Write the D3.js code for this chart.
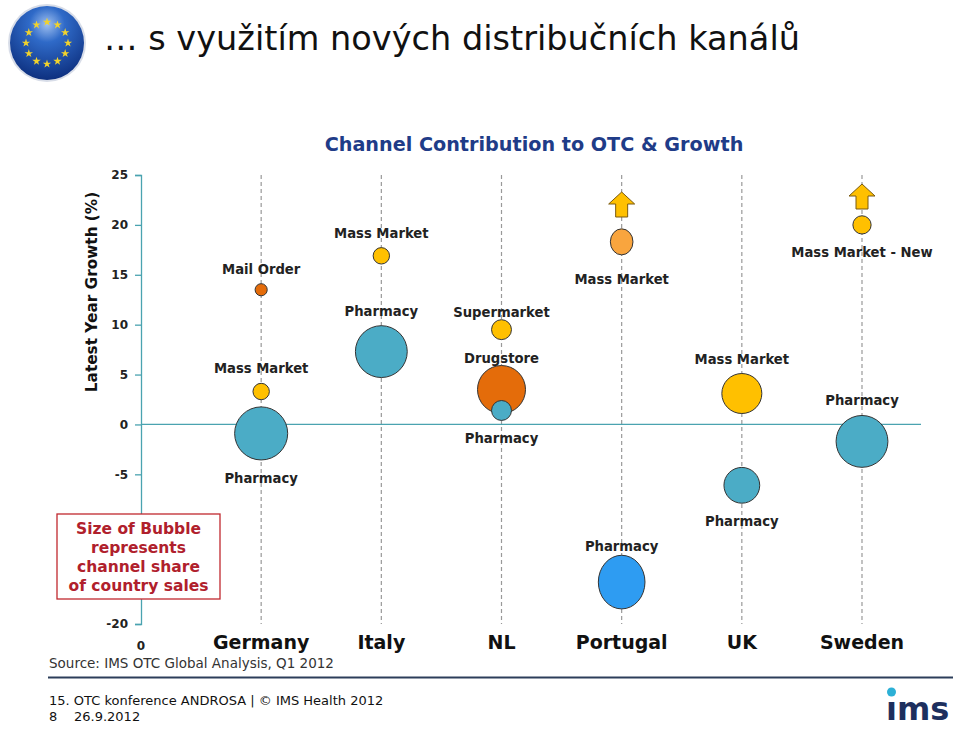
<!DOCTYPE html>
<html><head><meta charset="utf-8">
<script src="https://cdn.jsdelivr.net/npm/d3@7"></script>
<style>
html,body{margin:0;padding:0;background:#fff;}
svg{display:block;}
</style></head>
<body>
<svg id="c" width="960" height="729"></svg>
<script>
// ---- data ----
const countries = ["Germany", "Italy", "NL", "Portugal", "UK", "Sweden"];
const yTicks = [25, 20, 15, 10, 5, 0, -5, -20];
const bubbleCountry = ["Germany","Germany","Germany","Italy","Italy","NL","NL","NL","Portugal","Portugal","UK","UK","Sweden","Sweden"];
const bubbleChannel = ["Mail Order","Mass Market","Pharmacy","Mass Market","Pharmacy","Supermarket","Drugstore","Pharmacy","Mass Market","Pharmacy","Mass Market","Pharmacy","Mass Market - New","Pharmacy"];
const bubbleGrowth = [13.5, 3.3, -0.9, 16.9, 7.3, 9.5, 3.5, 1.4, 18.3, -15.8, 3.1, -6.1, 20.0, -1.7];
const bubbleShare  = [2.3, 4.2, 44, 4.2, 42, 6.2, 36, 6.2, 8.0, 34, 25, 20, 5.2, 42];
const bubbleColor  = ["#e46c0a","#ffc000","#4bacc6","#ffc000","#4bacc6","#ffc000","#e46c0a","#4bacc6","#f9a53e","#2e9cf2","#ffc000","#4bacc6","#ffc000","#4bacc6"];
const labelSide    = ["above","above","below","above","above","above","above","below","below","above","above","below","below","above"];
const arrowCountries = ["Portugal", "Sweden"];
const noteLines = ["Size of Bubble","represents","channel share","of country sales"];

const svg = d3.select("#c");
const font = "'DejaVu Sans', Verdana, sans-serif";

// ---- header ----
const defs = svg.append("defs");
const rg = defs.append("radialGradient").attr("id","eu").attr("cx","50%").attr("cy","25%").attr("r","80%");
rg.append("stop").attr("offset","0%").attr("stop-color","#9fc0f0");
rg.append("stop").attr("offset","30%").attr("stop-color","#2f6ac8");
rg.append("stop").attr("offset","100%").attr("stop-color","#0a2a78");
svg.append("circle").attr("cx",47).attr("cy",43).attr("r",39).attr("fill","#d8dde8");
svg.append("circle").attr("cx",47).attr("cy",43).attr("r",37).attr("fill","url(#eu)");
const star = d3.symbol().type(d3.symbolStar).size(22);
d3.range(12).forEach(i => {
  const a = i * Math.PI * 2 / 12;
  svg.append("path").attr("d", star())
    .attr("transform", `translate(${47 + 21*Math.sin(a)},${43 - 21*Math.cos(a)})`)
    .attr("fill", "#f2d32c");
});
svg.append("text").attr("x",104).attr("y",50).attr("font-family",font)
  .attr("font-size",33.5).attr("fill","#111").attr("textLength",696).attr("lengthAdjust","spacingAndGlyphs")
  .text("… s využitím nových distribučních kanálů");

// ---- chart ----
const x = d3.scalePoint().domain(["0"].concat(countries)).range([141, 862]);
const y = d3.scaleLinear().domain([-20, 25]).range([624, 175]);
const r = d3.scaleSqrt().domain([0, 100]).range([0, 40]);
const axisColor = "#4aa3b0";
const stretch = c => c === "Portugal" ? 1.15 : 1;   // Portugal bubbles are drawn slightly taller

svg.append("text").attr("x",534).attr("y",151).attr("text-anchor","middle")
  .attr("font-family",font).attr("font-weight","bold").attr("font-size",19.2)
  .attr("fill","#1f3c88").text("Channel Contribution to OTC & Growth");

// dashed country lines
svg.append("g").selectAll("line").data(countries).join("line")
  .attr("x1", d => x(d)).attr("x2", d => x(d))
  .attr("y1", y(25)).attr("y2", y(-20))
  .attr("stroke", "#999").attr("stroke-width", 1.2).attr("stroke-dasharray", "4,3");

// y axis
const yAxis = d3.axisLeft(y).tickValues(yTicks).tickSize(6).tickPadding(7).tickFormat(d => String(d));
const gy = svg.append("g").attr("transform", `translate(${x("0")},0)`).call(yAxis);
gy.select(".domain").attr("stroke", axisColor).attr("stroke-width",1.3);
gy.selectAll(".tick line").attr("stroke", axisColor).attr("stroke-width",1.3);
gy.selectAll(".tick text").attr("font-family",font).attr("font-weight","bold").attr("font-size",12).attr("fill","#222");

// zero line
svg.append("line").attr("x1", x("0")).attr("x2", 921).attr("y1", y(0)).attr("y2", y(0))
  .attr("stroke", axisColor).attr("stroke-width", 1.3);

// y title
svg.append("text").attr("transform", `translate(97,292) rotate(-90)`)
  .attr("text-anchor","middle").attr("font-family",font).attr("font-weight","bold")
  .attr("font-size",15.3).attr("fill","#111").text("Latest Year Growth (%)");

// x labels
svg.append("text").attr("x", x("0")).attr("y", 650).attr("text-anchor","middle")
  .attr("font-family",font).attr("font-weight","bold").attr("font-size",12).attr("fill","#222").text("0");
svg.append("g").selectAll("text").data(countries).join("text")
  .attr("x", d => x(d)).attr("y", 649).attr("text-anchor","middle")
  .attr("font-family",font).attr("font-weight","bold").attr("font-size",19).attr("fill","#111")
  .text(d => d);

// arrows
const arrowPath = (cx, top) => {
  const hw = 13, sw = 6, hh = 12, h = 25;
  return `M${cx},${top} L${cx+hw},${top+hh} L${cx+sw},${top+hh} L${cx+sw},${top+h} L${cx-sw},${top+h} L${cx-sw},${top+hh} L${cx-hw},${top+hh} Z`;
};
const arrowTop = {Portugal: 192, Sweden: 184};
svg.append("g").selectAll("path").data(arrowCountries).join("path")
  .attr("d", d => arrowPath(x(d), arrowTop[d]))
  .attr("fill", "#ffc000").attr("stroke", "#7a5a10").attr("stroke-width", 1);

// bubbles
const bubbles = bubbleChannel.map((c, i) => ({
  country: bubbleCountry[i], channel: c, growth: bubbleGrowth[i],
  share: bubbleShare[i], color: bubbleColor[i], side: labelSide[i]
}));
svg.append("g").selectAll("ellipse").data(bubbles).join("ellipse")
  .attr("cx", d => x(d.country)).attr("cy", d => y(d.growth))
  .attr("rx", d => r(d.share)).attr("ry", d => r(d.share) * stretch(d.country))
  .attr("fill", d => d.color).attr("stroke", "#333").attr("stroke-width", 1);

// labels (crowded NL / Portugal labels sit closer to / further from their bubble)
const gapAbove = {"NL|Supermarket": 3, "NL|Drugstore": 3, "Portugal|Pharmacy": 4};
const gapBelow = {"Portugal|Mass Market": 29};
svg.append("g").selectAll("text").data(bubbles).join("text")
  .attr("x", d => x(d.country))
  .attr("y", d => {
    const ry = r(d.share) * stretch(d.country);
    const key = d.country + "|" + d.channel;
    if (d.side === "above") return y(d.growth) - ry - (gapAbove[key] ?? 10);
    return y(d.growth) + ry + (gapBelow[key] ?? 23);
  })
  .attr("text-anchor","middle").attr("font-family",font).attr("font-weight","bold")
  .attr("font-size",13.2).attr("fill","#222").text(d => d.channel);

// note box
svg.append("rect").attr("x",57).attr("y",514).attr("width",163).attr("height",85)
  .attr("fill","#fff").attr("stroke","#c0282f").attr("stroke-width",1.3);
svg.append("g").selectAll("text").data(noteLines).join("text")
  .attr("x",138.5).attr("y",(d,i) => 534 + i*19).attr("text-anchor","middle")
  .attr("font-family",font).attr("font-weight","bold").attr("font-size",15.5)
  .attr("fill","#b0202c").text(d => d);

// ---- footer ----
svg.append("text").attr("x",49).attr("y",668).attr("font-family",font).attr("font-size",13.5)
  .attr("fill","#333").text("Source: IMS OTC Global Analysis, Q1 2012");
svg.append("line").attr("x1",48).attr("x2",953).attr("y1",677.5).attr("y2",677.5)
  .attr("stroke","#2c3e5a").attr("stroke-width",2);
svg.append("text").attr("x",49).attr("y",705).attr("font-family",font).attr("font-size",13)
  .attr("fill","#111").text("15. OTC konference ANDROSA | © IMS Health 2012");
svg.append("text").attr("x",49).attr("y",721).attr("font-family",font).attr("font-size",13)
  .attr("fill","#111").text("8");
svg.append("text").attr("x",74).attr("y",721).attr("font-family",font).attr("font-size",13)
  .attr("fill","#111").text("26.9.2012");

// ims logo
svg.append("text").attr("x",886).attr("y",720).attr("font-family",font)
  .attr("font-weight","bold").attr("font-size",32).attr("fill","#1d2f5e").text("ıms");
svg.append("circle").attr("cx",891.5).attr("cy",692).attr("r",4.5).attr("fill","#2cb0d6");
</script>
</body></html>
